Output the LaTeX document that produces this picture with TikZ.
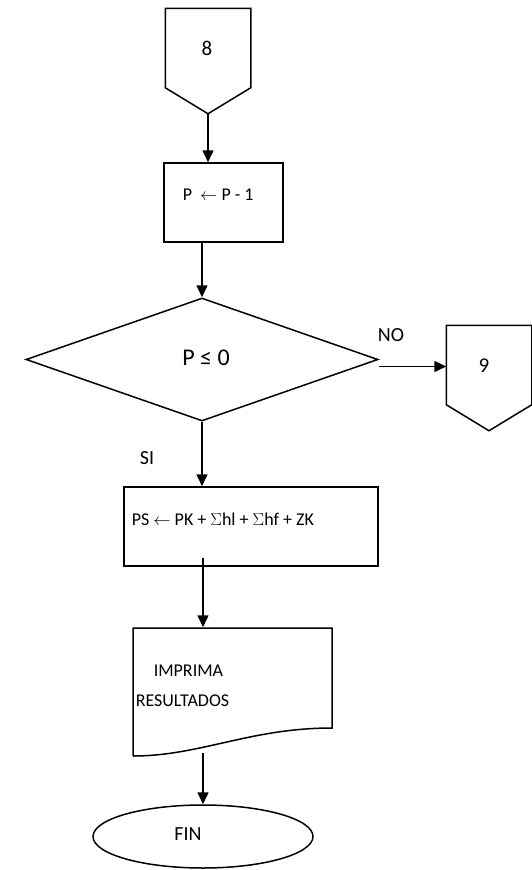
\documentclass[tikz,border=0pt]{standalone}
\usepackage{fontspec}
\setmainfont{Carlito}
\usetikzlibrary{arrows.meta,shapes.geometric,calc}
\begin{document}
\begin{tikzpicture}[x=1pt,y=-1pt,
  line width=1.5pt,
  flow/.style={-{Triangle[length=12pt,width=11pt]}},
  txt/.style={font=\fontsize{18}{21}\selectfont, inner sep=0pt},
  labtxt/.style={font=\fontsize{20}{24}\selectfont, inner sep=0pt},
  numtxt/.style={font=\fontsize{21}{25}\selectfont, inner sep=0pt},
  bigtxt/.style={font=\fontsize{24}{28}\selectfont, inner sep=0pt},
  boxshape/.style={draw, rectangle, inner sep=0pt},
  ghost/.style={rectangle, inner sep=0pt}]
\useasboundingbox (0,0) rectangle (532,870);

% off-page connector 8
\node[ghost, minimum width=84pt, minimum height=78pt] (c8) at (208,48) {};
\coordinate (c8tip) at ($(c8.south)+(0,-26pt)$);
\draw (c8.south west) -- (c8.north west) -- (c8.north east) -- (c8.south east) -- (c8tip) -- cycle;
\node[numtxt] (c8t) at (207,48) {8};

% process P <- P - 1
\node[boxshape, minimum width=119pt, minimum height=79pt] (b1) at (223.5,202.5) {};
\node[txt, anchor=west] (b1t) at (182,195) {P~~$\leftarrow$~P - 1};

% decision
\node[draw, diamond, minimum width=352pt, minimum height=123pt, inner sep=0pt] (dia) at (202,359.5) {};
\node[bigtxt] (diat) at (206,358) {P ≤ 0};

% off-page connector 9
\node[ghost, minimum width=84pt, minimum height=78pt] (c9) at (489,365) {};
\coordinate (c9tip) at ($(c9.south)+(0,-26pt)$);
\draw (c9.south west) -- (c9.north west) -- (c9.north east) -- (c9.south east) -- (c9tip) -- cycle;
\node[numtxt] (c9t) at (484,366) {9};

% process PS
\node[boxshape, minimum width=254pt, minimum height=79pt] (b2) at (251,526.5) {};
\node[txt, anchor=west] (b2t) at (131,519) {PS $\leftarrow$ PK + $\Sigma$hl + $\Sigma$hf + ZK};

% document output
\coordinate (dNW) at (133,628);
\coordinate (dNE) at (332,628);
\coordinate (dSE) at (332,728);
\coordinate (dSW) at (133,756);
\draw (dSW) -- (dNW) -- (dNE) -- (dSE) .. controls (250,728) and (200,756) .. (dSW);
\node[ghost, minimum width=199pt, minimum height=100pt] (doc) at (232.5,678) {};
\node[txt, anchor=west] (doct1) at (153,671) {IMPRIMA};
\node[txt, anchor=west] (doct2) at (135,701) {RESULTADOS};

% terminator
\node[draw, ellipse, minimum width=220pt, minimum height=63pt, inner sep=0pt] (fin) at (203,836.5) {};
\node[labtxt] (fint) at (188,834) {FIN};

% connectors
\draw[flow] (c8tip) -- (c8tip |- b1.north);
\draw[flow] (dia.north |- b1.south) -- (dia.north);
\coordinate (noStart) at ($(dia.east)+(0,-7pt)$);
\draw[flow] (noStart) -- (noStart -| c9.west);
\node[labtxt] (nolab) at (391,335) {NO};
\draw[flow] (dia.south) -- (dia.south |- b2.north);
\node[labtxt] (silab) at (147,458) {SI};
\coordinate (b2out) at ($(b2.south -| fin.north)+(0,9pt)$);
\draw[flow] (b2out) -- (b2out |- doc.north);
\coordinate (docout) at (203,753);
\draw[flow] (docout) -- (fin.north);
\end{tikzpicture}
\end{document}
